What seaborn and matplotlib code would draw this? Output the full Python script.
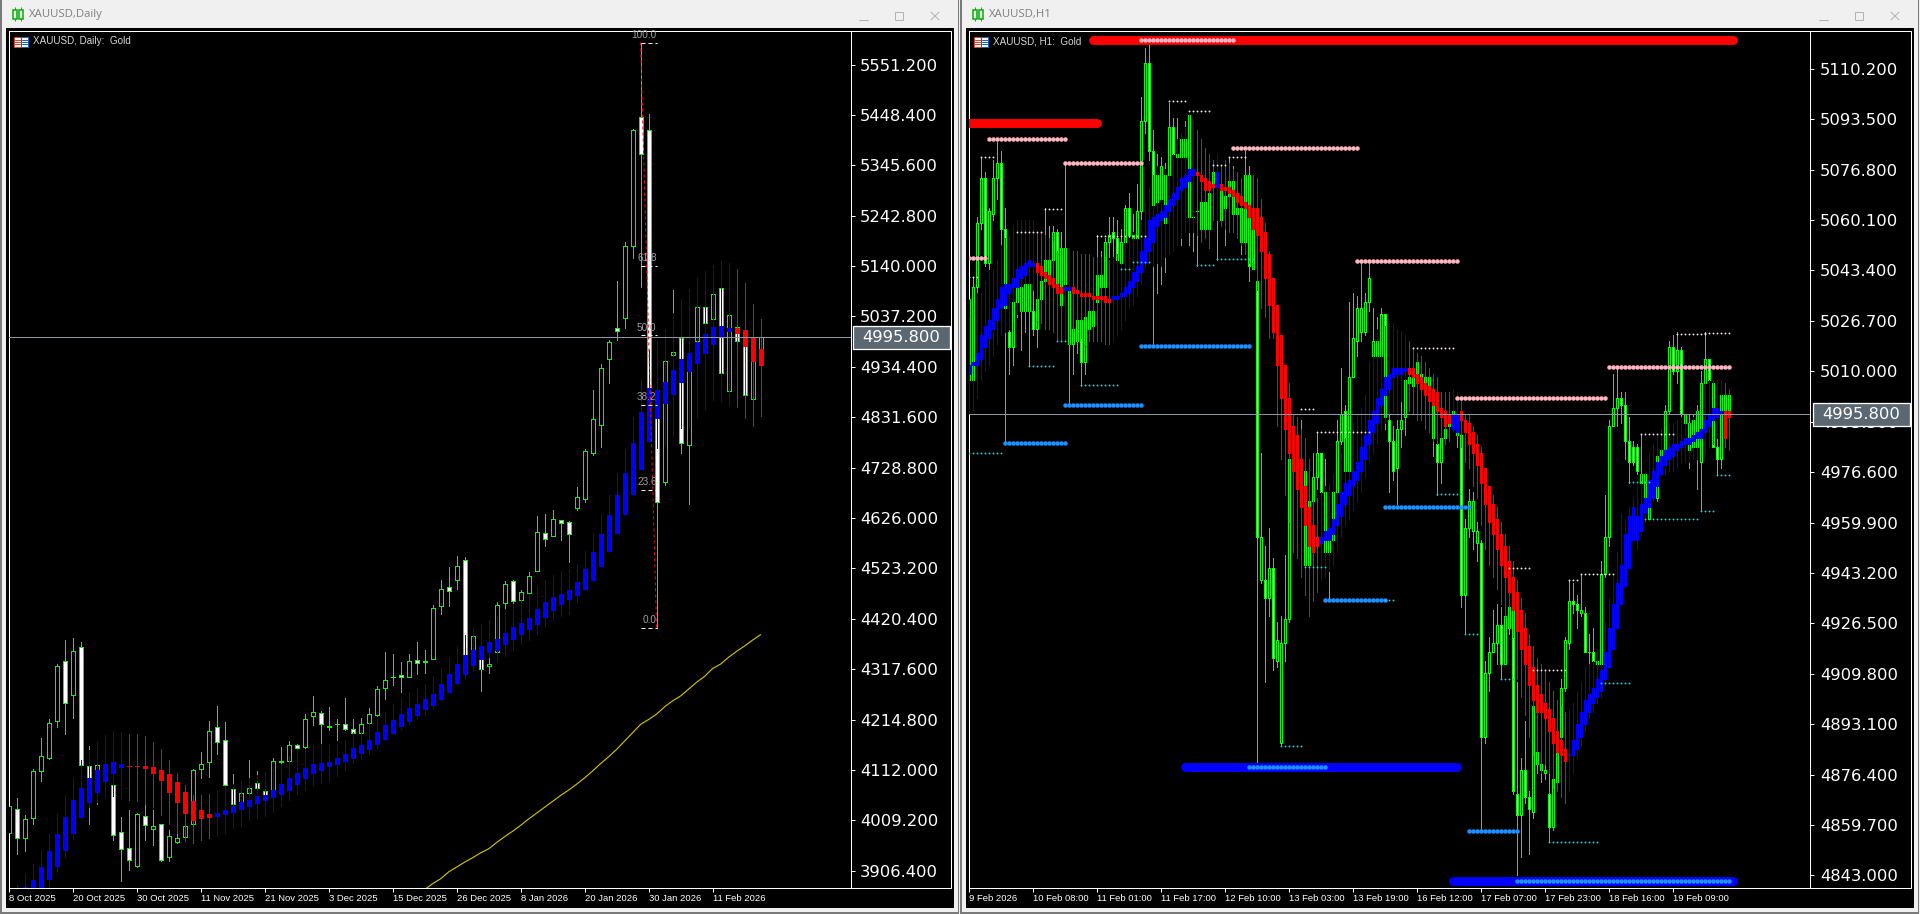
import numpy as np
import pandas as pd
import matplotlib
matplotlib.use('Agg')
import matplotlib.pyplot as plt
from matplotlib.patches import Rectangle
import seaborn as sns

# Daily candles
d_high = [4039,4055,4021,4115,4178,4217,4329,4378,4381,4374,
    4160,4125,4166,4118,4016,4030,4025,4043,4030,4002,
    3989,3984,4009,4115,4148,4211,4243,4209,4104,4088,
    4132,4109,4070,4137,4158,4172,4166,4226,4262,4233,
    4240,4217,4258,4217,4219,4238,4284,4352,4348,4333,
    4348,4373,4356,4448,4499,4526,4548,4546,4402,4380,
    4346,4455,4497,4499,4479,4516,4630,4634,4642,4623,
    4620,4689,4766,4887,4941,4990,5110,5190,5420,5596,
    5451,4985,4969,5092,4999,4959,5092,5092,5112,5122,
    5092,5024,4999,4990,5010]
d_open = [3983,4033,3974,4015,4110,4137,4211,4335,4264,4363,
    4121,4077,4098,4082,3986,3953,3917,4019,3991,4002,
    3934,3966,3975,4002,4114,4128,4200,4174,4074,4047,
    4065,4086,4070,4057,4129,4130,4164,4158,4223,4228,
    4200,4205,4206,4196,4188,4207,4224,4280,4301,4306,
    4302,4337,4333,4339,4447,4486,4500,4540,4345,4339,
    4325,4353,4452,4497,4458,4473,4518,4595,4590,4621,
    4617,4647,4665,4759,4815,4951,5014,5034,5181,5445,
    5417,4830,4700,4958,4994,4776,4988,5057,5032,5096,
    4886,5016,4985,4868,4971]
d_close = [4039,3974,4013,4109,4141,4207,4325,4249,4354,4122,
    4077,4123,4118,3980,3951,3929,4023,4000,3998,3929,
    3978,3974,3998,4113,4125,4192,4170,4082,4043,4066,
    4076,4076,4062,4131,4130,4162,4156,4217,4231,4205,
    4201,4206,4196,4188,4206,4227,4278,4296,4302,4301,
    4335,4331,4334,4442,4482,4478,4529,4307,4385,4319,
    4329,4448,4492,4456,4476,4507,4597,4584,4625,4615,
    4594,4668,4762,4829,4933,4985,5007,5180,5418,5369,
    4892,4659,4947,4965,4779,4926,5057,5024,5084,4922,
    5041,4988,4876,4979,4996]
d_low = [3975,3941,3947,4002,4089,4135,4200,4185,4218,4118,
    4001,4042,4064,3970,3885,3907,3914,3970,3959,3927,
    3927,3963,3971,4001,4096,4098,4144,4080,4042,3997,
    4050,4057,4057,4055,4118,4121,4138,4152,4203,4166,
    4193,4173,4193,4186,4186,4205,4223,4257,4285,4271,
    4301,4307,4309,4338,4430,4446,4481,4300,4320,4273,
    4310,4340,4436,4448,4457,4467,4517,4569,4589,4581,
    4536,4642,4659,4755,4771,4902,4990,5014,5157,5098,
    4857,4401,4693,4867,4759,4655,4928,5010,4990,4898,
    4873,4979,4867,4857,4949]

# Daily heiken ashi overlay
dha_high = [3860,3878,3899,3921,3949,3982,4023,4062,4096,4132,
    4152,4170,4183,4191,4189,4186,4186,4181,4170,4155,
    4132,4106,4081,4062,4060,4064,4072,4080,4084,4089,
    4096,4101,4107,4115,4125,4140,4155,4155,4164,4166,
    4166,4166,4174,4190,4194,4207,4217,4231,4246,4258,
    4271,4280,4287,4303,4321,4341,4365,4387,4403,4410,
    4418,4426,4440,4450,4458,4472,4487,4499,4509,4518,
    4522,4532,4558,4595,4634,4673,4716,4765,4832,4910,
    4969,4988,5012,5045,5073,5094,5116,5130,5143,5151,
    5147,5135,5106,5063,5032]
dha_open = [3830,3853,3853,3859,3866,3889,3916,3949,3983,4016,
    4047,4068,4089,4105,4118,4121,4121,4121,4119,4113,
    4103,4087,4068,4048,4030,4023,4019,4022,4026,4032,
    4038,4044,4051,4056,4063,4072,4083,4096,4105,4113,
    4120,4124,4130,4136,4146,4154,4165,4175,4187,4202,
    4211,4224,4236,4244,4256,4271,4289,4307,4326,4339,
    4353,4356,4369,4379,4390,4399,4409,4424,4438,4450,
    4460,4469,4481,4499,4528,4558,4595,4634,4675,4726,
    4783,4830,4860,4880,4904,4926,4943,4963,4981,4998,
    5008,5013,5010,4996,4971]
dha_close = [3850,3866,3873,3887,3915,3946,3982,4017,4050,4076,
    4096,4111,4125,4129,4125,4120,4120,4116,4105,4092,
    4068,4047,4025,4011,4014,4017,4025,4031,4038,4047,
    4051,4058,4062,4072,4084,4096,4106,4117,4125,4127,
    4129,4136,4145,4156,4164,4174,4189,4203,4215,4226,
    4238,4247,4256,4268,4287,4307,4329,4346,4356,4365,
    4373,4379,4391,4403,4411,4422,4440,4454,4465,4472,
    4479,4495,4522,4557,4593,4632,4673,4718,4779,4842,
    4892,4887,4904,4928,4951,4963,4986,5002,5016,5018,
    5014,5004,4977,4947,4938]
dha_low = [3820,3846,3846,3842,3853,3873,3904,3934,3972,4016,
    4036,4047,4057,4058,4052,4050,4048,4043,4036,4021,
    4002,3984,3968,3963,3970,3973,3978,3983,3994,3997,
    4009,4014,4018,4026,4038,4050,4063,4072,4081,4085,
    4089,4100,4112,4126,4135,4145,4157,4173,4185,4195,
    4206,4218,4224,4239,4254,4271,4288,4300,4313,4319,
    4343,4334,4344,4356,4370,4377,4389,4405,4418,4426,
    4430,4454,4479,4499,4528,4558,4595,4634,4675,4726,
    4783,4769,4775,4793,4810,4810,4832,4848,4867,4865,
    4857,4853,4831,4814,4834]

# Daily moving average, first value belongs to bar 52
ma_first_bar = 52
d_ma = [3868,3880,3890,3904,3914,3924,3933,3943,3951,3964,3976,3987,3999,4012,
    4024,4036,4048,4060,4071,4083,4096,4110,4125,4139,4154,4171,4188,4205,4215,
    4226,4241,4253,4263,4277,4291,4303,4319,4328,4342,4354,4365,4377,4388]

fib_levels = [100.0, 61.8, 50.0, 38.2, 23.6, 0.0]
fib_top = 5596
fib_bottom = 4401
fib_left_bar = 79
fib_right_bar = 81

# H1 candles
h_high = [5038,5041,5061,5081,5076,5064,5080,5086,5083,5064,
    5034,5034,5041,5039,5041,5041,5039,5038,5045,5064,
    5058,5058,5057,5056,5079,5051,5038,5027,5028,5028,
    5034,5033,5055,5050,5054,5061,5061,5060,5057,5065,
    5069,5062,5072,5101,5117,5118,5090,5082,5081,5079,
    5099,5094,5094,5089,5093,5095,5093,5090,5067,5076,
    5071,5078,5078,5077,5070,5081,5078,5067,5067,5083,
    5078,5062,5041,4983,4952,4958,4948,4927,4929,4949,
    4981,4992,4991,4994,4987,4974,4983,4990,4983,4981,
    4968,4976,4994,5011,4999,5033,5036,5035,5046,5036,
    5046,5031,5028,5031,5029,4997,4992,4994,5000,5011,
    5012,5012,5014,5013,5011,5010,5006,4988,4994,4995,
    4997,4998,5000,4998,4961,4971,4970,4960,4954,4914,
    4922,4931,4933,4932,4932,4933,4933,4907,4882,4894,
    4871,4900,4899,4883,4881,4877,4876,4885,4908,4922,
    4941,4940,4936,4943,4932,4923,4925,4918,4947,4969,
    4994,5009,5011,5003,5003,4995,4987,4986,4989,4977,
    4973,4978,4989,4986,4999,5020,5022,5023,5018,4996,
    4996,4996,4999,5010,5023,5014,5007,4992,5004,5006,5004]
h_open = [5007,5007,5038,5059,5074,5046,5062,5074,5079,5057,
    5023,5018,5033,5030,5030,5030,5030,5024,5034,5040,
    5039,5047,5056,5032,5039,5019,5019,5020,5027,5013,
    5024,5025,5033,5038,5038,5053,5056,5054,5046,5053,
    5064,5054,5054,5063,5093,5112,5083,5066,5067,5059,
    5075,5091,5081,5081,5081,5095,5061,5063,5057,5057,
    5057,5072,5076,5060,5064,5068,5062,5062,5053,5053,
    5075,5044,5040,4941,4941,4935,4945,4914,4887,4920,
    4928,4977,4982,4975,4946,4946,4967,4975,4983,4950,
    4950,4954,4970,4987,4997,4977,5008,5020,5023,5023,
    5033,5015,5020,5015,5029,4994,4987,4978,4991,4995,
    5006,5005,5008,5004,5002,5003,4988,4986,4980,4988,
    4992,4994,4989,4989,4936,4958,4957,4953,4953,4889,
    4910,4917,4920,4926,4913,4925,4931,4870,4863,4878,
    4869,4864,4884,4880,4877,4870,4859,4874,4889,4905,
    4920,4934,4933,4930,4930,4917,4917,4913,4913,4943,
    4955,4992,4998,5001,4999,4987,4985,4985,4973,4967,
    4961,4968,4968,4982,4984,4997,5018,5010,5017,4993,
    4984,4985,4985,4980,5006,5014,5006,4985,4981,4988,4996]
h_close = [5034,5038,5059,5074,5046,5063,5074,5079,5057,5031,
    5018,5033,5039,5038,5039,5039,5024,5034,5040,5047,
    5047,5056,5039,5051,5051,5038,5024,5027,5013,5028,
    5030,5030,5042,5042,5053,5055,5054,5047,5053,5064,
    5055,5055,5063,5093,5112,5083,5065,5075,5078,5075,
    5091,5082,5082,5087,5087,5061,5061,5063,5066,5066,
    5069,5076,5072,5072,5068,5073,5073,5064,5064,5075,
    5045,5061,4955,4955,4935,4945,4915,4921,4920,4928,
    4981,4983,4989,4981,4977,4967,4975,4983,4970,4970,
    4954,4970,4987,4996,4977,5008,5021,5031,5031,5033,
    5041,5020,5015,5029,4995,4987,4977,4991,4994,5007,
    5008,5011,5013,5009,5008,5008,5000,4980,4988,4991,
    4994,4997,4996,4936,4958,4967,4967,4957,4889,4910,
    4917,4920,4926,4913,4929,4932,4871,4863,4878,4869,
    4865,4899,4880,4878,4878,4859,4875,4884,4905,4921,
    4934,4933,4931,4931,4917,4917,4914,4914,4943,4955,
    4992,4998,5001,4999,4987,4980,4980,4977,4976,4976,
    4973,4977,4982,4984,4997,5018,5010,5017,4996,4996,
    4993,4994,4997,5006,5014,5007,4985,4981,5002,5002,5002]
h_low = [5006,4997,5032,5057,5045,5044,5060,5067,5052,4986,
    5009,5012,5028,5017,5023,5012,5022,5018,5033,5036,
    5038,5036,5036,5029,5020,4999,5009,5016,5005,5009,
    5022,5020,5032,5034,5036,5048,5048,5045,5045,5050,
    5054,5050,5054,5060,5089,5080,5019,5036,5039,5043,
    5070,5078,5061,5052,5067,5052,5050,5045,5053,5056,
    5051,5067,5047,5058,5052,5067,5061,5060,5049,5051,
    5040,5044,4880,4940,4907,4929,4911,4912,4886,4914,
    4927,4972,4980,4972,4945,4945,4967,4971,4970,4949,
    4935,4953,4969,4986,4976,4976,5008,5015,5020,5022,
    5030,5013,5013,5012,4991,4970,4974,4966,4985,4989,
    4997,4996,5000,4998,4994,4994,4982,4969,4973,4987,
    4991,4992,4985,4932,4923,4955,4951,4947,4858,4887,
    4904,4917,4913,4908,4913,4923,4870,4843,4849,4867,
    4850,4862,4877,4874,4875,4854,4858,4874,4884,4904,
    4918,4930,4925,4929,4917,4913,4914,4912,4912,4942,
    4952,4992,4992,4993,4981,4973,4979,4976,4967,4961,
    4961,4967,4967,4981,4983,4996,5009,5006,4995,4990,
    4978,4984,4971,4964,5003,5005,4985,4976,4978,4985,4984]

# H1 heiken ashi overlay
hha_high = [5028,5030,5036,5036,5040,5043,5044,5047,5052,5054,
    5055,5058,5060,5060,5060,5060,5060,5056,5056,5055,
    5054,5053,5050,5051,5051,5051,5050,5050,5049,5049,
    5049,5048,5048,5048,5048,5047,5048,5049,5050,5054,
    5054,5056,5058,5060,5066,5071,5075,5078,5077,5077,
    5078,5082,5087,5089,5091,5095,5093,5090,5087,5084,
    5082,5080,5082,5078,5080,5079,5077,5076,5074,5075,
    5075,5075,5074,5067,5059,5050,5041,5032,5022,5012,
    5006,4996,4995,4991,4988,4981,4974,4968,4970,4972,
    4973,4976,4981,4983,4988,4989,4993,4996,4998,5002,
    5013,5016,5024,5025,5025,5026,5026,5024,5023,5022,
    5020,5018,5016,5015,5013,5011,5009,5008,5003,5003,
    5003,5004,5003,5001,4996,4996,4992,4989,4985,4978,
    4972,4969,4965,4960,4956,4952,4947,4941,4935,4930,
    4923,4919,4915,4913,4911,4907,4904,4901,4899,4897,
    4898,4900,4904,4907,4912,4913,4914,4918,4921,4927,
    4935,4943,4950,4963,4961,4965,4968,4972,4976,4977,
    4983,4986,4989,4991,4992,4993,4993,4994,4995,4996,
    4993,4995,4997,5003,5006,5007,5007,5007,5007,5006,5004]
hha_open = [5009,5012,5012,5014,5018,5021,5024,5027,5031,5032,
    5036,5038,5038,5041,5042,5045,5045,5046,5045,5043,
    5042,5041,5039,5038,5037,5037,5038,5037,5036,5036,
    5036,5035,5035,5035,5035,5034,5034,5034,5035,5035,
    5036,5038,5040,5043,5046,5050,5053,5058,5060,5061,
    5063,5065,5067,5070,5071,5073,5075,5076,5075,5074,
    5073,5072,5071,5072,5071,5071,5070,5069,5068,5066,
    5065,5064,5064,5061,5056,5049,5041,5032,5022,5012,
    5001,4992,4989,4981,4972,4965,4959,4955,4953,4954,
    4954,4956,4959,4962,4966,4969,4972,4974,4977,4981,
    4986,4990,4993,4999,5002,5004,5008,5009,5009,5010,
    5011,5011,5009,5008,5006,5005,5004,5003,4998,4997,
    4996,4991,4990,4997,4994,4993,4990,4986,4983,4978,
    4972,4966,4961,4956,4952,4947,4942,4937,4931,4925,
    4919,4912,4906,4903,4900,4898,4895,4891,4888,4885,
    4883,4883,4885,4889,4893,4897,4900,4902,4904,4908,
    4912,4918,4925,4933,4939,4945,4954,4954,4957,4963,
    4965,4968,4972,4976,4979,4981,4982,4984,4985,4986,
    4986,4987,4988,4988,4990,4992,4994,4995,4996,4997,4997]
hha_close = [5012,5013,5016,5022,5025,5027,5031,5034,5038,5039,
    5039,5041,5044,5045,5046,5047,5046,5043,5042,5041,
    5039,5038,5036,5036,5038,5038,5036,5036,5035,5035,
    5035,5034,5034,5034,5033,5033,5035,5035,5036,5038,
    5040,5043,5045,5050,5054,5060,5061,5062,5063,5065,
    5067,5069,5071,5074,5075,5077,5077,5075,5073,5070,
    5070,5071,5076,5070,5070,5069,5068,5066,5065,5064,
    5061,5057,5055,5050,5041,5032,5023,5012,5001,4991,
    4983,4977,4971,4965,4959,4952,4950,4952,4955,4957,
    4958,4961,4966,4970,4973,4974,4977,4980,4985,4989,
    4994,4997,5001,5004,5008,5009,5011,5011,5011,5011,
    5009,5008,5006,5004,5002,5000,4999,4997,4995,4992,
    4993,4996,4996,4994,4990,4986,4983,4979,4973,4966,
    4960,4956,4951,4946,4942,4937,4931,4924,4918,4913,
    4906,4901,4897,4897,4895,4891,4887,4884,4883,4881,
    4883,4888,4893,4897,4901,4903,4905,4908,4911,4917,
    4925,4933,4940,4946,4956,4962,4965,4962,4966,4968,
    4974,4977,4980,4982,4984,4985,4986,4986,4987,4988,
    4988,4989,4990,4991,4994,4996,4998,4998,4997,4988,4995]
hha_low = [4996,4997,5001,5007,5010,5012,5015,5019,5022,5023,
    5024,5027,5029,5030,5030,5030,5037,5027,5026,5024,
    5024,5023,5020,5020,5020,5019,5020,5020,5021,5019,
    5020,5020,5020,5020,5019,5019,5020,5022,5024,5027,
    5031,5032,5035,5039,5045,5046,5045,5046,5045,5048,
    5049,5050,5052,5054,5056,5056,5056,5055,5053,5054,
    5051,5060,5060,5058,5057,5056,5056,5054,5052,5049,
    5046,5044,5037,5031,5028,5021,5021,4992,4981,4969,
    4960,4950,4948,4942,4936,4929,4934,4937,4941,4942,
    4944,4946,4951,4955,4959,4961,4964,4967,4970,4975,
    4980,4983,4986,4991,4993,4996,4996,4995,5000,4998,
    4997,4996,4994,4994,4991,4990,4987,4986,4985,4986,
    4987,4990,4989,4985,4980,4978,4972,4968,4959,4951,
    4946,4942,4938,4933,4929,4925,4922,4908,4902,4896,
    4889,4883,4880,4877,4880,4877,4872,4871,4869,4867,
    4871,4877,4882,4886,4891,4895,4897,4900,4902,4906,
    4912,4918,4925,4933,4939,4945,4954,4951,4956,4960,
    4963,4967,4972,4976,4976,4977,4977,4978,4980,4980,
    4980,4981,4981,4982,4983,4985,4986,4988,4986,4985,4984]

# H1 support and resistance levels
pink_first = [0, 5, 24, 43, 66, 97, 122, 160]
pink_last = [4, 24, 43, 66, 97, 122, 159, 190]
pink_price = [5047.6, 5086.8, 5079.1, 5119.6, 5084.1, 5046.5, 5001.2, 5011.4]
sky_first = [9, 24, 43, 70, 89, 104, 125, 137]
sky_last = [24, 43, 70, 89, 104, 125, 137, 190]
sky_price = [4986.2, 4998.8, 5018.4, 4878.8, 4934.2, 4964.9, 4857.6, 4841.3]
white_first = [0, 3, 12, 19, 32, 50, 55, 61, 65, 83, 87, 111, 135, 141, 150, 153, 168, 177, 184]
white_last = [2, 6, 18, 23, 44, 54, 60, 64, 69, 86, 100, 121, 140, 149, 152, 161, 176, 184, 190]
white_price = [5041.3, 5081.1, 5056.2, 5063.8, 5054.9, 5099.4, 5096.1, 5078.5, 5081.1, 4997.5,
    4989.9, 5017.8, 4944.8, 4910.9, 4940.8, 4942.8, 4989.3, 5022.4, 5022.8]
cyan_first = [0, 15, 22, 28, 38, 41, 57, 62, 78, 84, 104, 117, 124, 133, 145, 158, 165, 169, 183, 187]
cyan_last = [8, 21, 24, 37, 40, 45, 61, 71, 83, 89, 106, 123, 127, 136, 157, 165, 170, 182, 186, 190]
cyan_price = [4983.0, 5011.8, 5020.1, 5005.5, 5044.0, 5046.3, 5045.3, 5047.3, 4885.8, 4945.2,
    4934.2, 4969.4, 4922.9, 4908.0, 4854.2, 4906.6, 4973.3, 4961.0, 4963.7, 4975.7]
red_band_first = [0, 31]
red_band_last = [32, 191]
red_band_price = [5092.1, 5119.6]
blue_band_first = [54, 121]
blue_band_last = [122, 191]
blue_band_price = [4878.8, 4841.3]

# Axis labels
last_price = 4995.8
d_yticks = [5551.2, 5448.4, 5345.6, 5242.8, 5140.0, 5037.2, 4934.4, 4831.6, 4728.8, 4626.0,
    4523.2, 4420.4, 4317.6, 4214.8, 4112.0, 4009.2, 3906.4]
h_yticks = [5110.2, 5093.5, 5076.8, 5060.1, 5043.4, 5026.7, 5010.0, 4993.3, 4976.6, 4959.9,
    4943.2, 4926.5, 4909.8, 4893.1, 4876.4, 4859.7, 4843.0]
d_xlabels = ['8 Oct 2025', '20 Oct 2025', '30 Oct 2025', '11 Nov 2025', '21 Nov 2025', '3 Dec 2025',
    '15 Dec 2025', '26 Dec 2025', '8 Jan 2026', '20 Jan 2026', '30 Jan 2026', '11 Feb 2026']
h_xlabels = ['9 Feb 2026', '10 Feb 08:00', '11 Feb 01:00', '11 Feb 17:00', '12 Feb 10:00', '13 Feb 03:00',
    '13 Feb 19:00', '16 Feb 12:00', '17 Feb 07:00', '17 Feb 23:00', '18 Feb 16:00', '19 Feb 09:00']

GREEN = '#00ff00'
PX = 0.72  # one pixel in points at 100 dpi

sns.set_theme(style='ticks', rc={'axes.facecolor': 'black', 'axes.edgecolor': 'white',
                                 'axes.linewidth': PX, 'xtick.color': 'white', 'ytick.color': 'white',
                                 'axes.grid': False})
plt.rcParams['font.family'] = ['DejaVu Sans']

W, H = 1920, 914
fig = plt.figure(figsize=(W / 100, H / 100), dpi=100, facecolor='#f0f0f0')


def px_axes(x0, y0, x1, y1, zorder):
    return fig.add_axes([x0 / W, 1 - y1 / H, (x1 - x0) / W, (y1 - y0) / H], zorder=zorder)


back = px_axes(0, 0, W, H, 0)
back.set_xlim(0, W)
back.set_ylim(H, 0)
back.axis('off')
front = px_axes(0, 0, W, H, 5)
front.set_xlim(0, W)
front.set_ylim(H, 0)
front.axis('off')
front.patch.set_alpha(0)


def draw_window(x, right, title, sub):
    back.add_patch(Rectangle((x, 0), 1.5, H, fc='#7a7a7a', ec='none'))
    back.add_patch(Rectangle((x, H - 2), right - x + 7, 2, fc='#7a7a7a', ec='none'))
    back.add_patch(Rectangle((right + 7, 0), 1.2, H, fc='#7a7a7a', ec='none'))
    back.add_patch(Rectangle((x + 6, 28), right - x - 6 + 2.5, 880, fc='black', ec='none'))
    back.add_patch(Rectangle((x + 8.5, 30.5), right - x - 8.5, 857, fc='none', ec='white', lw=PX))
    # title bar icon and buttons
    for cx in (x + 14.5, x + 20.5):
        back.plot([cx, cx], [7, 21], color='#00b000', lw=PX, solid_capstyle='butt')
        back.add_patch(Rectangle((cx - 2, 9.5), 4, 9, fc='#f0f0f0', ec='#00b000', lw=1.1, zorder=3))
    back.text(x + 29, 14, title, color='#808080', fontsize=8.2, family='Open Sans', va='center', ha='left')
    back.plot([right - 92, right - 83], [19.5, 19.5], color='#b4b4b4', lw=PX)
    back.add_patch(Rectangle((right - 56, 12), 8, 8, fc='none', ec='#b4b4b4', lw=PX))
    back.plot([right - 20, right - 12], [12, 20], color='#b4b4b4', lw=PX)
    back.plot([right - 20, right - 12], [20, 12], color='#b4b4b4', lw=PX)
    # flag beside the symbol name
    front.add_patch(Rectangle((x + 13.5, 36.5), 14, 10, fc='white', ec='#e04030', lw=PX))
    front.add_patch(Rectangle((x + 20.5, 36.5), 7, 10, fc='white', ec='#1060c0', lw=PX))
    for yy in (39.5, 41.5, 43.5):
        front.plot([x + 15, x + 20], [yy, yy], color='#e04030', lw=PX)
        front.plot([x + 22, x + 26.5], [yy, yy], color='#1060c0', lw=PX)
    front.text(x + 33, 41.5, sub, color='#d8d8d8', fontsize=7.1, family='Liberation Sans', va='center', ha='left')


def draw_candles(ax, df, ha):
    bars = df.index.to_numpy()
    is_down = df['close'] < df['open']
    ax.vlines(bars, df['low'], df['high'], color=GREEN, lw=PX, antialiased=False, zorder=2)
    ax.bar(bars, df['close'] - df['open'], bottom=df['open'], width=0.5,
           color=np.where(is_down, 'white', 'black'), edgecolor=GREEN, lw=PX,
           antialiased=False, zorder=3)
    ha_colors = np.where(ha['close'] < ha['open'], '#ff0000', '#0000ff')
    ax.vlines(bars, ha['low'], ha['high'], color=ha_colors, lw=PX, antialiased=False, zorder=4)
    ax.bar(bars, ha['close'] - ha['open'], bottom=ha['open'], width=0.5,
           color=ha_colors, edgecolor=ha_colors, lw=PX, antialiased=False, zorder=5)


def dress_axes(ax, yticks, xlabels, x_step):
    ax.yaxis.tick_right()
    ax.set_yticks(yticks)
    ax.set_yticklabels([f'{v:.3f}' for v in yticks], fontsize=11.8)
    ax.set_xticks(np.arange(len(xlabels)) * x_step)
    ax.set_xticklabels(xlabels, ha='left', fontsize=6.8, family='Liberation Sans', color='#e4e4e4')
    ax.tick_params(axis='y', length=2.9, width=PX, pad=3.8, colors='white')
    ax.tick_params(axis='x', length=2.9, width=PX, pad=1.6, colors='white')
    ax.set_xlabel('')
    ax.set_ylabel('')
    ax.hlines(last_price, *ax.get_xlim(), color='#8d979f', lw=PX, zorder=6, antialiased=False)
    # price label
    x_tr = ax.get_yaxis_transform()
    y0, y1 = ax.get_ylim()
    per_px = (y1 - y0) / ax.get_window_extent().height
    ax.add_patch(Rectangle((1.0025, last_price - 12 * per_px), 97 / ax.get_window_extent().width, 23 * per_px,
                           transform=x_tr, fc='#5c6871', ec='white', lw=PX * 1.3, clip_on=False, zorder=8))
    ax.text(1.0025 + 48.5 / ax.get_window_extent().width, last_price - 0.5 * per_px, f'{last_price:.3f}',
            transform=x_tr, color='white', fontsize=11.8, ha='center', va='center', zorder=9, clip_on=False)


draw_window(0, 951, 'XAUUSD,Daily', 'XAUUSD, Daily:  Gold')
draw_window(960, 1911, 'XAUUSD,H1', 'XAUUSD, H1:  Gold')

# left panel: daily
day = pd.DataFrame({'open': d_open, 'high': d_high, 'low': d_low, 'close': d_close})
day_ha = pd.DataFrame({'open': dha_open, 'high': dha_high, 'low': dha_low, 'close': dha_close})
ax_d = px_axes(8.5, 30.5, 850.5, 887.5, 2)
d_xlim = (-0.01, 105.24)
ax_d.set_xlim(*d_xlim)
ax_d.set_ylim(3872.3, 5620.6)
draw_candles(ax_d, day, day_ha)
ma = pd.DataFrame({'bar': np.arange(len(d_ma)) + ma_first_bar, 'price': d_ma})
sns.lineplot(data=ma, x='bar', y='price', color='#d8c800', lw=0.8, ax=ax_d, zorder=6, errorbar=None)

# fibonacci retracement
fib_prices = [fib_bottom + (fib_top - fib_bottom) * lv / 100 for lv in fib_levels]
ax_d.plot([fib_left_bar, fib_right_bar], [fib_top, fib_bottom], color='#ff0000', lw=PX,
          ls=(0, (3, 3)), zorder=7, clip_on=False)
ax_d.hlines(fib_prices, fib_left_bar, fib_right_bar, color='white', lw=PX, ls=(0, (4, 3)), zorder=7)
for lv, p in zip(fib_levels, fib_prices):
    ax_d.text(fib_right_bar, p + 6, f'{lv:.1f}', color='#a0a0a0', fontsize=7.2, ha='right', va='bottom',
              family='Liberation Sans', zorder=7, clip_on=False)
ax_d.set_xlim(*d_xlim)
dress_axes(ax_d, d_yticks, d_xlabels, 8)

# right panel: H1
hour = pd.DataFrame({'open': h_open, 'high': h_high, 'low': h_low, 'close': h_close})
hour_ha = pd.DataFrame({'open': hha_open, 'high': hha_high, 'low': hha_low, 'close': hha_close})
ax_h = px_axes(968.5, 30.5, 1810.5, 887.5, 2)
h_xlim = (-0.01, 210.5)
ax_h.set_xlim(*h_xlim)
ax_h.set_ylim(4839.0, 5122.9)
draw_candles(ax_h, hour, hour_ha)


def levels_frame(first, last, price):
    rows = [(b, p) for f, l, p in zip(first, last, price) for b in range(f, l + 1)]
    return pd.DataFrame(rows, columns=['bar', 'price'])


for first, last, price, color in [(red_band_first, red_band_last, red_band_price, '#ff0000'),
                                  (blue_band_first, blue_band_last, blue_band_price, '#0000ff')]:
    for f, l, p in zip(first, last, price):
        band = pd.DataFrame({'bar': [f, l], 'price': [p, p]})
        sns.lineplot(data=band, x='bar', y='price', color=color, lw=6.4, ax=ax_h, errorbar=None,
                     solid_capstyle='round', zorder=6)

for first, last, price, color, size in [(pink_first, pink_last, pink_price, '#ffb6c1', 10.5),
                                        (sky_first, sky_last, sky_price, '#1e90ff', 10.5),
                                        (white_first, white_last, white_price, '#ffe4e1', 1.8),
                                        (cyan_first, cyan_last, cyan_price, '#00e5ee', 1.8)]:
    sns.scatterplot(data=levels_frame(first, last, price), x='bar', y='price', color=color, s=size,
                    lw=0, ax=ax_h, zorder=7)
ax_h.set_xlim(*h_xlim)
dress_axes(ax_h, h_yticks, h_xlabels, 16)

fig.savefig('out.png', dpi=100, facecolor=fig.get_facecolor())
